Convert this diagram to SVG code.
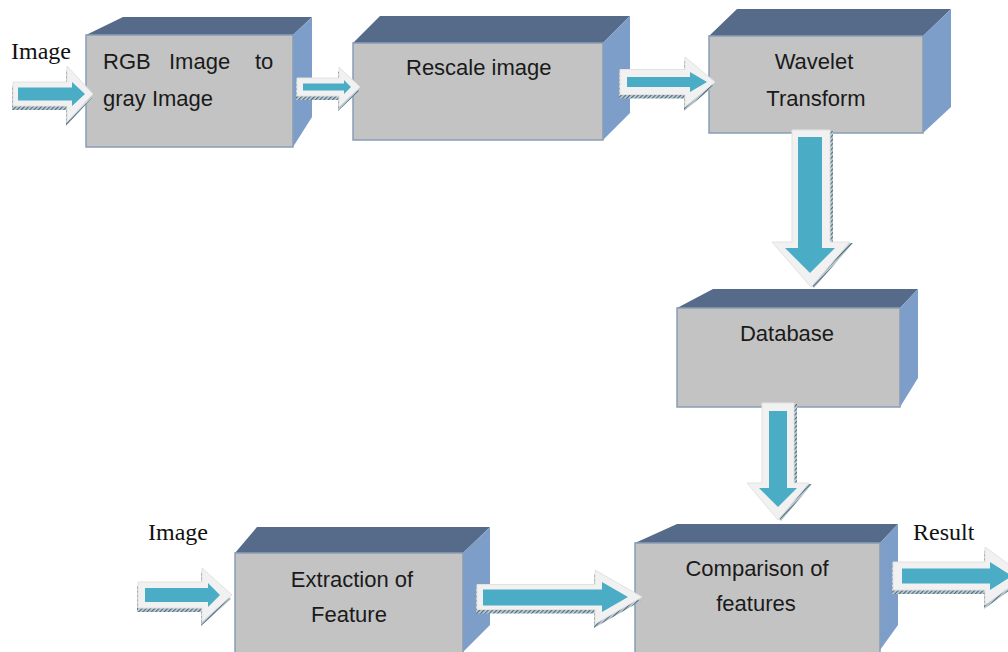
<svg xmlns="http://www.w3.org/2000/svg" width="1008" height="652" viewBox="0 0 1008 652">
<defs>
<pattern id="hatch" width="3" height="3" patternUnits="userSpaceOnUse" patternTransform="rotate(45)">
<rect width="3" height="3" fill="#c3ced3"/>
<rect width="1.2" height="3" fill="#4a6d80"/>
</pattern>
<style>
.front{fill:#c3c3c3;stroke:#8a9db8;stroke-width:1.5}
.top{fill:#556b89}
.side{fill:#7c9ec8}
.lbl{font-family:"Liberation Sans",Arial,sans-serif;font-size:22px;fill:#1a1a1a}
.ser{font-family:"Liberation Serif","Times New Roman",serif;font-size:24px;fill:#111}
.out{fill:#f1f1f1;stroke:#e2e2e2;stroke-width:1}
.in{fill:#4bacc6}
.sh{fill:url(#hatch)}
</style>
</defs>
<rect width="1008" height="652" fill="#ffffff"/>

<g id="box1">
<polygon class="top" points="86,35 123,17 312,17 293,35"/>
<polygon class="side" points="293,35 312,17 312,117 293,147"/>
<rect class="front" x="86" y="35" width="207" height="112"/>
<text class="lbl" y="69"><tspan x="103">RGB</tspan><tspan x="169">Image</tspan><tspan x="255">to</tspan></text>
<text class="lbl" x="103" y="106">gray Image</text>
</g>

<g id="box2">
<polygon class="top" points="353,43 380,16 630,16 603,43"/>
<polygon class="side" points="603,43 630,16 630,113 603,140"/>
<rect class="front" x="353" y="43" width="250" height="97"/>
<text class="lbl" x="406" y="75">Rescale image</text>
</g>

<g id="box3">
<polygon class="top" points="709,36 737,9 951,9 923,36"/>
<polygon class="side" points="923,36 951,9 951,107 923,133"/>
<rect class="front" x="709" y="36" width="214" height="97"/>
<text class="lbl" x="814" y="69" text-anchor="middle">Wavelet</text>
<text class="lbl" x="816" y="106" text-anchor="middle">Transform</text>
</g>

<g id="box4">
<polygon class="top" points="677,308 713,289 918,289 900,308"/>
<polygon class="side" points="900,308 918,289 918,378 900,407"/>
<rect class="front" x="677" y="308" width="223" height="99"/>
<text class="lbl" x="787" y="341" text-anchor="middle">Database</text>
</g>

<g id="box5">
<polygon class="top" points="235,553 257,527 490,527 463,553"/>
<polygon class="side" points="463,553 490,527 490,625 463,652"/>
<rect class="front" x="235" y="553" width="228" height="102"/>
<text class="lbl" x="352" y="587" text-anchor="middle">Extraction of</text>
<text class="lbl" x="349" y="622" text-anchor="middle">Feature</text>
</g>

<g id="box6">
<polygon class="top" points="635,543 677,524 898,524 880,543"/>
<polygon class="side" points="880,543 898,524 898,625 880,650"/>
<rect class="front" x="635" y="543" width="245" height="112"/>
<text class="lbl" x="757" y="576" text-anchor="middle">Comparison of</text>
<text class="lbl" x="756" y="611" text-anchor="middle">features</text>
</g>

<g id="connectors">
<g id="a1">
<polygon class="sh" transform="translate(-1,4)" points="13,82 67,82 67,66 93,94 67,122 67,106 13,106"/>
<polygon class="out" points="13,82 67,82 67,66 93,94 67,122 67,106 13,106"/>
<polygon class="in" points="18,87.5 72,87.5 72,82 85,94 72,106 72,100.5 18,100.5"/>
</g>
<g id="a2">
<polygon class="sh" transform="translate(-1,4)" points="297,78 339,78 339,67 360,87 339,107 339,96 297,96"/>
<polygon class="out" points="297,78 339,78 339,67 360,87 339,107 339,96 297,96"/>
<polygon class="in" points="303,83.5 344,83.5 344,80 351,87 344,94 344,90.5 303,90.5"/>
</g>
<g id="a3">
<polygon class="sh" transform="translate(-1,4)" points="620,69.5 685,69.5 685,57 715,82 685,107 685,94.5 620,94.5"/>
<polygon class="out" points="620,69.5 685,69.5 685,57 715,82 685,107 685,94.5 620,94.5"/>
<polygon class="in" points="627,77 690,77 690,72 707,82 690,92 690,87 627,87"/>
</g>
<g id="a4">
<polygon class="sh" transform="translate(3,1)" points="792,130 830,130 830,242 850,242 811,287 772,242 792,242"/>
<polygon class="out" points="792,130 830,130 830,242 850,242 811,287 772,242 792,242"/>
<polygon class="in" points="798,137 822,137 822,248 835,248 810,273 785,248 798,248"/>
</g>
<g id="a5">
<polygon class="sh" transform="translate(3,1)" points="762,403 794,403 794,483 809,483 778,520 747,483 762,483"/>
<polygon class="out" points="762,403 794,403 794,483 809,483 778,520 747,483 762,483"/>
<polygon class="in" points="769,411 787,411 787,488 797,488 778,507 759,488 769,488"/>
</g>
<g id="a6">
<polygon class="sh" transform="translate(-1,4)" points="138,582 202,582 202,568 232,595 202,622 202,608 138,608"/>
<polygon class="out" points="138,582 202,582 202,568 232,595 202,622 202,608 138,608"/>
<polygon class="in" points="145,588 208,588 208,583 220,595 208,607 208,602 145,602"/>
</g>
<g id="a7">
<polygon class="sh" transform="translate(-1,4)" points="477,584.5 595,584.5 595,570 642,597 595,624 595,609.5 477,609.5"/>
<polygon class="out" points="477,584.5 595,584.5 595,570 642,597 595,624 595,609.5 477,609.5"/>
<polygon class="in" points="483,589.5 602,589.5 602,582 628,597 602,612 602,605.5 483,605.5"/>
</g>
<g id="a8">
<polygon class="sh" transform="translate(-1,4)" points="893,562 985,562 985,547 1025,576 985,605 985,590 893,590"/>
<polygon class="out" points="893,562 985,562 985,547 1025,576 985,605 985,590 893,590"/>
<polygon class="in" points="902,568.5 990,568.5 990,562 1012,576 990,590 990,583.5 902,583.5"/>
</g>
</g>

<g id="labels">
<text class="ser" x="11" y="59">Image</text>
<text class="ser" x="148" y="540">Image</text>
<text class="ser" x="913" y="540">Result</text>
</g>
</svg>
